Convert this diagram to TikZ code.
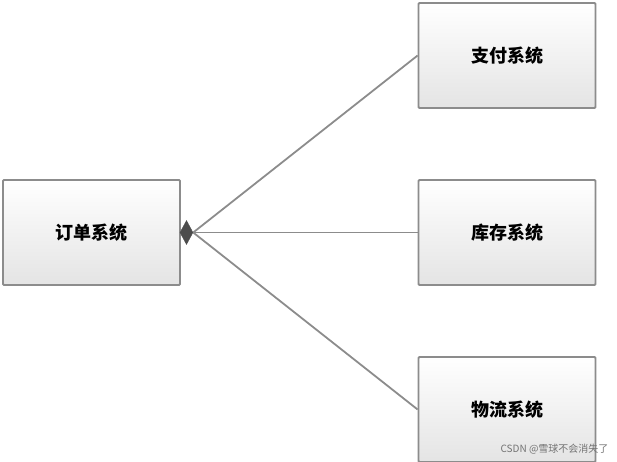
\documentclass[tikz,border=0pt]{standalone}
\usepackage{fontspec}
\newfontfamily\cjk{Noto Sans CJK SC}
\usetikzlibrary{shapes.geometric}
\definecolor{myline}{RGB}{140,140,140}
\definecolor{mytop}{RGB}{255,255,255}
\definecolor{mybottom}{RGB}{228,228,228}

\begin{document}
\begin{tikzpicture}[x=1pt, y=-1pt,
	sysbox/.style={draw=myline, line width=1.8pt, rounded corners=1pt, top color=mytop, bottom color=mybottom,
		minimum width=177pt, minimum height=105pt, inner sep=0pt, font=\cjk\bfseries\fontsize{18}{22}\selectfont},
	link/.style={draw=myline, line width=1.8pt}]
	\useasboundingbox (0,0) rectangle (617,462);

	\node[sysbox] (order) at (91.5,232.5) {订单系统};
	\node[sysbox] (pay) at (507,55.5) {支付系统};
	\node[sysbox] (stock) at (507,232.5) {库存系统};
	\node[sysbox] (ship) at (507,409.5) {物流系统};

	\node[diamond, fill=black!70, draw=black!70, minimum width=13pt, minimum height=24pt, inner sep=0pt] (agg) at (186.5,232.5) {};

	\draw[link] (agg.east) -- (pay.west);
	\draw[link] (agg.east) -- (stock.west);
	\draw[link] (agg.east) -- (ship.west);

	\node[anchor=south east, text=black!55, font=\cjk\fontsize{10}{12}\selectfont] (mark) at (612,458) {CSDN @雪球不会消失了};
\end{tikzpicture}
\end{document}
